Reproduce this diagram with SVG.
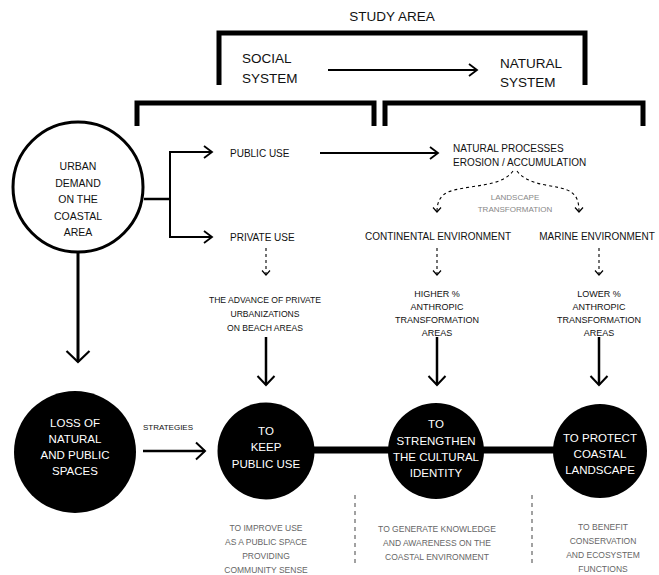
<svg xmlns="http://www.w3.org/2000/svg" width="659" height="575" viewBox="0 0 659 575">
<style>
text{font-family:"Liberation Sans",Arial,sans-serif;fill:#111}
.m{text-anchor:middle}
.w{fill:#fff;font-size:11.5px}
.g{fill:#666;font-size:8.5px}
.lg{fill:#888;font-size:8px}
.t10{font-size:10px}
.t9{font-size:9px}
.br{fill:none;stroke:#000;stroke-width:5}
.ln{fill:none;stroke:#000}
.ds{fill:none;stroke:#000;stroke-width:1.1;stroke-dasharray:3 3}
.gd{fill:none;stroke:#555;stroke-width:1.1;stroke-dasharray:4 4}
</style>
<defs>
<marker id="ah" viewBox="0 0 12 14" refX="10" refY="7" markerWidth="12" markerHeight="14" markerUnits="userSpaceOnUse" orient="auto"><path d="M2,1 L10,7 L2,13" fill="none" stroke="#000" stroke-width="1.8"/></marker>
<marker id="ahm" viewBox="0 0 14 20" refX="12" refY="10" markerWidth="14" markerHeight="20" markerUnits="userSpaceOnUse" orient="auto"><path d="M3,1.5 L12,10 L3,18.5" fill="none" stroke="#000" stroke-width="2"/></marker>
<marker id="ahl" viewBox="0 0 16 26" refX="14" refY="13" markerWidth="16" markerHeight="26" markerUnits="userSpaceOnUse" orient="auto"><path d="M3,1.5 L14,13 L3,24.5" fill="none" stroke="#000" stroke-width="2.2"/></marker>
<marker id="ahd" viewBox="0 0 8 10" refX="6" refY="5" markerWidth="8" markerHeight="10" markerUnits="userSpaceOnUse" orient="auto"><path d="M1.5,1 L6,5 L1.5,9" fill="none" stroke="#000" stroke-width="1.2"/></marker>
</defs>

<g id="brackets">
<path class="br" d="M219,85 V33 H585 V85"/>
<path class="br" d="M137,126 V103 H374 V126"/>
<path class="br" d="M385,126 V103 H643 V126"/>
</g>

<g id="connectors">
<line class="ln" stroke-width="2" x1="328" y1="70" x2="477" y2="70" marker-end="url(#ah)"/>
<line class="ln" stroke-width="2.5" x1="144" y1="199" x2="171" y2="199"/>
<path class="ln" stroke-width="2" d="M212,152 H170 V237 H212" marker-end="url(#ah)"/>
<line class="ln" stroke-width="2" x1="170" y1="152" x2="212" y2="152" marker-end="url(#ah)"/>
<line class="ln" stroke-width="2" x1="320" y1="153" x2="438" y2="153" marker-end="url(#ah)"/>
<path class="ds" d="M513,171 C500,188 470,184 448,192 C440,196 437,202 437,212" marker-end="url(#ahd)"/>
<path class="ds" d="M517,171 C530,188 560,184 571,192 C577,196 579,202 579,212" marker-end="url(#ahd)"/>
<line class="ds" x1="266" y1="248" x2="266" y2="275" marker-end="url(#ahd)"/>
<line class="ds" x1="437" y1="248" x2="437" y2="275" marker-end="url(#ahd)"/>
<line class="ds" x1="599" y1="248" x2="599" y2="275" marker-end="url(#ahd)"/>
<line class="ln" stroke-width="2.5" x1="266" y1="337" x2="266" y2="385" marker-end="url(#ahm)"/>
<line class="ln" stroke-width="2.5" x1="437" y1="337" x2="437" y2="385" marker-end="url(#ahm)"/>
<line class="ln" stroke-width="2.5" x1="599" y1="337" x2="599" y2="385" marker-end="url(#ahm)"/>
<line class="ln" stroke-width="3" x1="78" y1="252" x2="78" y2="362" marker-end="url(#ahl)"/>
<line class="ln" stroke-width="2.5" x1="143" y1="451" x2="205" y2="451" marker-end="url(#ahm)"/>
<line class="ln" stroke-width="7" x1="266" y1="450" x2="600" y2="450"/>
<line class="gd" x1="355" y1="495" x2="355" y2="563"/>
<line class="gd" x1="532" y1="495" x2="532" y2="563"/>
</g>

<g id="study-area">
<text class="m" x="392" y="21" style="font-size:13.5px">STUDY AREA</text>
</g>
<g id="social-system">
<text x="242" y="63" style="font-size:13.5px">SOCIAL</text>
<text x="242" y="83" style="font-size:13.5px">SYSTEM</text>
</g>
<g id="natural-system">
<text x="500" y="68" style="font-size:13.5px">NATURAL</text>
<text x="500" y="87" style="font-size:13.5px">SYSTEM</text>
</g>

<g id="urban-demand">
<circle cx="78" cy="187" r="65" fill="#fff" stroke="#000" stroke-width="3"/>
<text class="m" x="78" y="170" style="font-size:10.5px">URBAN</text>
<text class="m" x="78" y="186.5" style="font-size:10.5px">DEMAND</text>
<text class="m" x="78" y="203" style="font-size:10.5px">ON THE</text>
<text class="m" x="78" y="219.5" style="font-size:10.5px">COASTAL</text>
<text class="m" x="78" y="236" style="font-size:10.5px">AREA</text>
</g>

<g id="public-use"><text class="t10" x="230" y="157">PUBLIC USE</text></g>
<g id="private-use"><text class="t10" x="230" y="241">PRIVATE USE</text></g>
<g id="natural-processes">
<text class="t10" x="453" y="152">NATURAL PROCESSES</text>
<text class="t10" x="453" y="166">EROSION / ACCUMULATION</text>
</g>
<g id="landscape-transformation">
<text class="m lg" x="515" y="200">LANDSCAPE</text>
<text class="m lg" x="515" y="212">TRANSFORMATION</text>
</g>
<g id="continental"><text class="m t10" x="438" y="240">CONTINENTAL ENVIRONMENT</text></g>
<g id="marine"><text class="m t10" x="597" y="240">MARINE ENVIRONMENT</text></g>

<g id="private-advance">
<text class="m" x="265" y="303" style="font-size:8.6px">THE ADVANCE OF PRIVATE</text>
<text class="m" x="265" y="317" style="font-size:8.6px">URBANIZATIONS</text>
<text class="m" x="265" y="331" style="font-size:8.6px">ON BEACH AREAS</text>
</g>
<g id="higher">
<text class="m t9" x="437" y="297">HIGHER %</text>
<text class="m t9" x="437" y="310">ANTHROPIC</text>
<text class="m t9" x="437" y="323">TRANSFORMATION</text>
<text class="m t9" x="437" y="336">AREAS</text>
</g>
<g id="lower">
<text class="m t9" x="599" y="297">LOWER %</text>
<text class="m t9" x="599" y="310">ANTHROPIC</text>
<text class="m t9" x="599" y="323">TRANSFORMATION</text>
<text class="m t9" x="599" y="336">AREAS</text>
</g>

<g id="loss">
<circle cx="75" cy="452" r="61" fill="#000"/>
<text class="m w" x="75" y="427">LOSS OF</text>
<text class="m w" x="75" y="443">NATURAL</text>
<text class="m w" x="75" y="459">AND PUBLIC</text>
<text class="m w" x="75" y="475">SPACES</text>
</g>
<g id="strategies"><text class="m" x="168" y="430" style="font-size:8px">STRATEGIES</text></g>

<g id="keep-public-use">
<circle cx="266" cy="451" r="48.5" fill="#000"/>
<text class="m w" x="266" y="435">TO</text>
<text class="m w" x="266" y="451">KEEP</text>
<text class="m w" x="266" y="468">PUBLIC USE</text>
</g>
<g id="strengthen">
<circle cx="436" cy="451" r="48" fill="#000"/>
<text class="m w" x="436" y="428">TO</text>
<text class="m w" x="436" y="445">STRENGTHEN</text>
<text class="m w" x="436" y="461">THE CULTURAL</text>
<text class="m w" x="436" y="477">IDENTITY</text>
</g>
<g id="protect">
<circle cx="600" cy="451" r="47" fill="#000"/>
<text class="m w" x="600" y="442">TO PROTECT</text>
<text class="m w" x="600" y="458">COASTAL</text>
<text class="m w" x="600" y="474">LANDSCAPE</text>
</g>

<g id="improve-use">
<text class="m g" x="266" y="531">TO IMPROVE USE</text>
<text class="m g" x="266" y="545">AS A PUBLIC SPACE</text>
<text class="m g" x="266" y="559">PROVIDING</text>
<text class="m g" x="266" y="573">COMMUNITY SENSE</text>
</g>
<g id="generate-knowledge">
<text class="m g" x="437" y="532">TO GENERATE KNOWLEDGE</text>
<text class="m g" x="437" y="546">AND AWARENESS ON THE</text>
<text class="m g" x="437" y="560">COASTAL ENVIRONMENT</text>
</g>
<g id="benefit">
<text class="m g" x="603" y="530">TO BENEFIT</text>
<text class="m g" x="603" y="544">CONSERVATION</text>
<text class="m g" x="603" y="558">AND ECOSYSTEM</text>
<text class="m g" x="603" y="572">FUNCTIONS</text>
</g>
</svg>
